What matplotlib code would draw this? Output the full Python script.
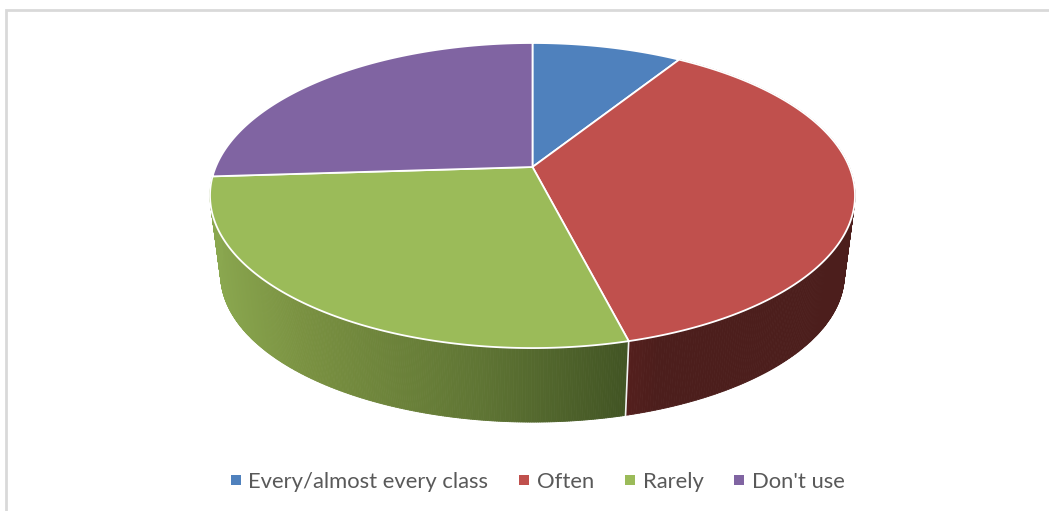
import numpy as np
import matplotlib
matplotlib.use('Agg')
import matplotlib.pyplot as plt
from matplotlib.collections import PolyCollection
from matplotlib.lines import Line2D
from matplotlib.patches import Polygon

labels = ['Every/almost every class', 'Often', 'Rarely', "Don't use"]
values = [9, 37, 28, 26]
top_colors = ['#4f81bd', '#c0504d', '#9bbb59', '#8064a2']

# side shading, left to right in screen x
green_x = [212, 300, 480, 626]
green_r = [0.541, 0.478, 0.373, 0.259]
green_g = [0.655, 0.569, 0.459, 0.333]
green_b = [0.310, 0.255, 0.204, 0.141]
red_x = [626, 660, 850]
red_r = [0.333, 0.298, 0.298]
red_g = [0.122, 0.118, 0.118]
red_b = [0.114, 0.110, 0.110]

# perspective of the pie in pixels
cx, cy = 532.5, 167
A, B, k = 316.8, 147.2, 0.187
depth, shrink = 80, 0.967


def project(theta, r=1.0, bottom=False):
    # theta clockwise from 12 o'clock
    x = r*np.sin(theta)
    y = r*np.cos(theta)
    w = 1 + k*y
    sx, sy = A*x/w, B*y/w
    if bottom:
        return cx + shrink*sx, cy + depth - shrink*sy
    return cx + sx, cy - sy


def side_color(slice_i, x):
    if slice_i == 2:
        return (np.interp(x, green_x, green_r), np.interp(x, green_x, green_g), np.interp(x, green_x, green_b))
    return (np.interp(x, red_x, red_r), np.interp(x, red_x, red_g), np.interp(x, red_x, red_b))


fig = plt.figure(figsize=(10.49, 5.11), dpi=100)
ax = fig.add_axes([0, 0, 1, 1])
ax.set_xlim(0, 1049)
ax.set_ylim(511, 0)
ax.axis('off')

# frame of the chart area, only left and top are in the image
ax.plot([6, 6, 1049], [511, 10, 10], color='#d9d9d9', lw=2, solid_joinstyle='miter')

edges = np.cumsum([0] + values)/sum(values)*2*np.pi

# side walls first, only the front slices show
for i in [1, 2]:
    t = np.linspace(edges[i], edges[i+1], 300)
    x0, y0 = project(t)
    x1, y1 = project(t, bottom=True)
    quads = []
    cols = []
    for j in range(len(t)-1):
        quads.append([(x0[j], y0[j]), (x0[j+1], y0[j+1]), (x1[j+1], y1[j+1]), (x1[j], y1[j])])
        cols.append(side_color(i, (x0[j]+x0[j+1])/2))
    ax.add_collection(PolyCollection(quads, facecolors=cols, edgecolors=cols, linewidths=0.6, zorder=2))

# white seam between red and green walls
xa, ya = project(edges[2])
xb, yb = project(edges[2], bottom=True)
ax.plot([xa, xb], [ya, yb], color='#f2f2f2', lw=1.2, zorder=3)

# top face
for i in range(len(values)):
    t = np.linspace(edges[i], edges[i+1], 200)
    x, y = project(t)
    pts = np.column_stack([np.r_[cx, x], np.r_[cy, y]])
    ax.add_patch(Polygon(pts, closed=True, facecolor=top_colors[i], edgecolor='white', lw=1.3, joinstyle='round', zorder=4))

handles = [Line2D([], [], linestyle='none', marker='s', markersize=6.5, markeredgewidth=0, color=c) for c in top_colors]
ax.legend(handles, labels, loc='center', bbox_to_anchor=(536.5/1049, 1-482/511), ncol=4, frameon=False,
          prop={'family': 'Lato', 'size': 15.8}, labelcolor='#595959', handlelength=0.7, handletextpad=0.23,
          columnspacing=1.28, borderpad=0)

fig.savefig('out.png', dpi=100)
